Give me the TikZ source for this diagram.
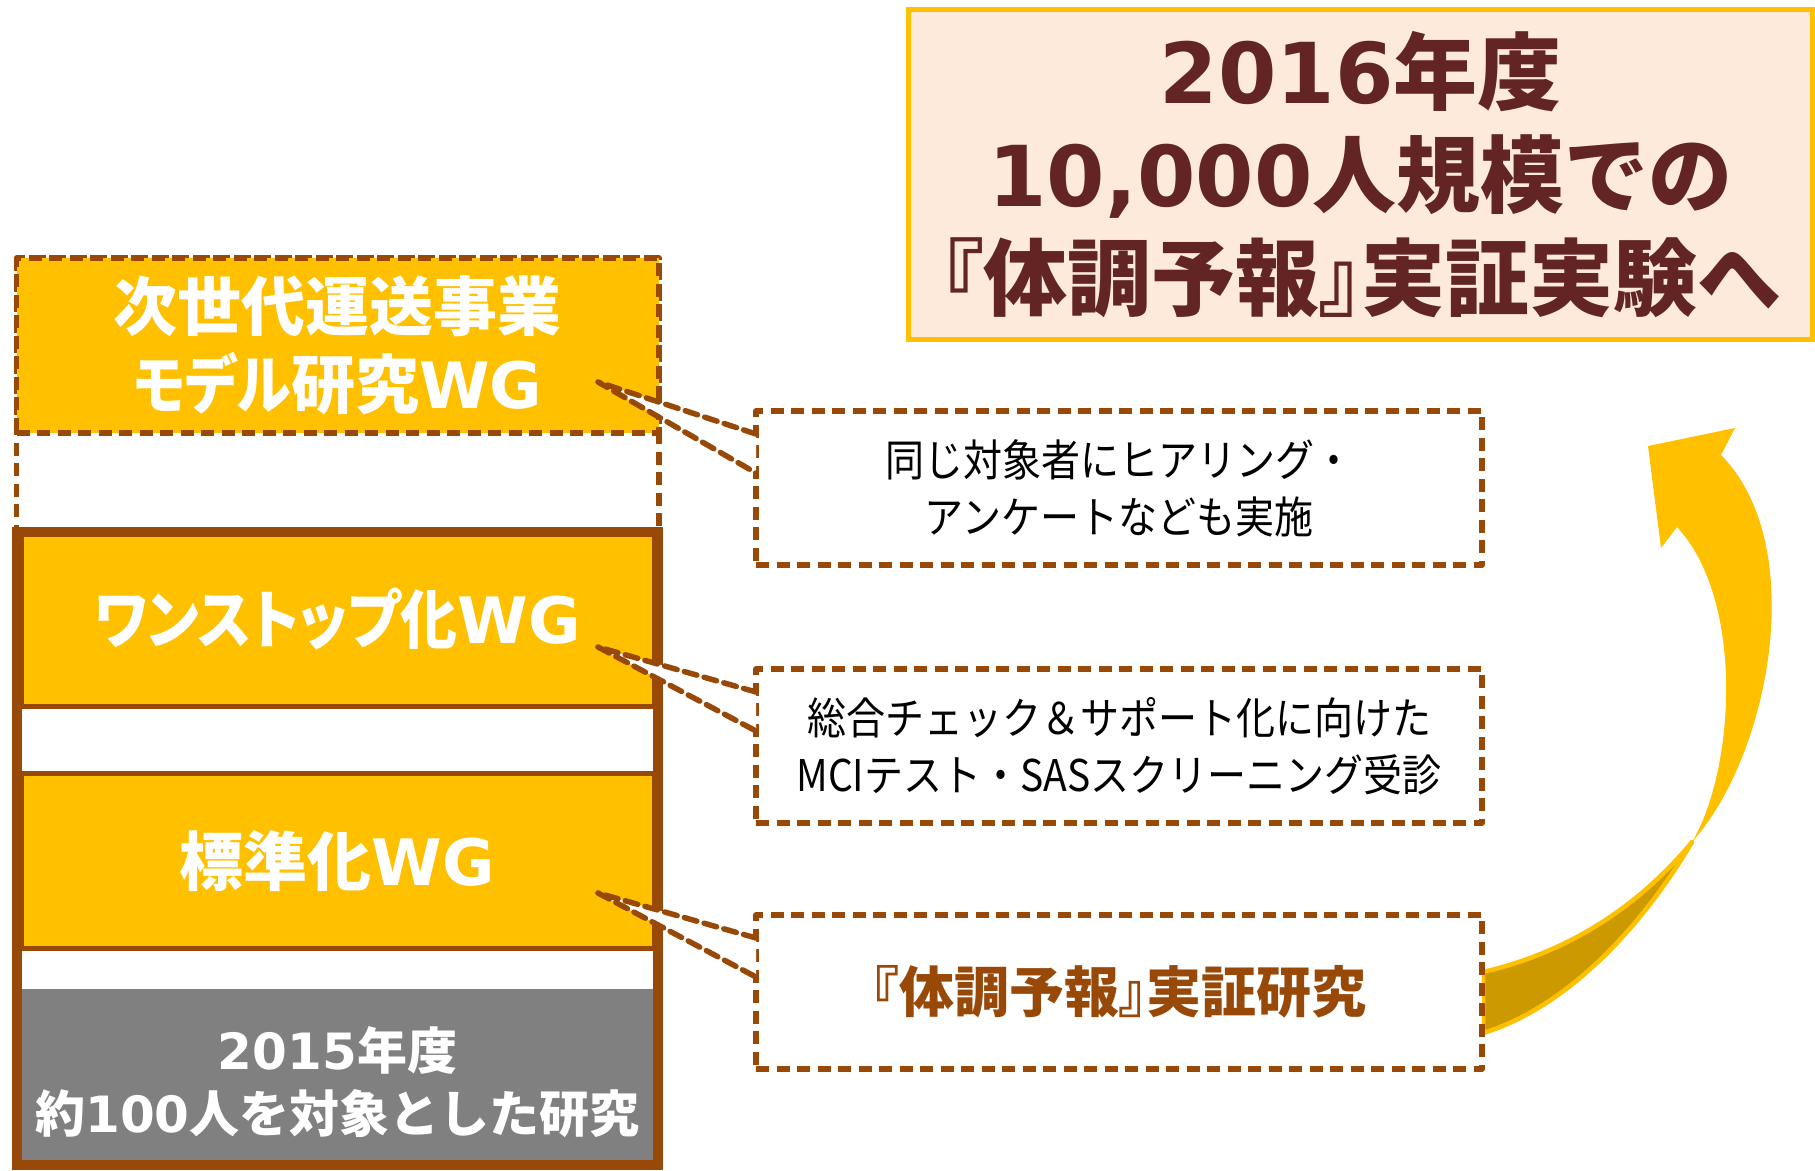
\documentclass[tikz,border=0pt]{standalone}
\usepackage{fontspec}
\setmainfont{Noto Sans CJK JP}
\newfontfamily\jp{Noto Sans CJK JP}
\newfontfamily\jpp[RawFeature=+palt]{Noto Sans CJK JP}
\newfontfamily\lat{DejaVu Sans}
\usetikzlibrary{calc}
\definecolor{brn}{HTML}{984807}
\definecolor{gold}{HTML}{FFC000}
\definecolor{peach}{HTML}{FDEADA}
\definecolor{maroon}{HTML}{632523}
\definecolor{dgold}{HTML}{CC9A00}
\definecolor{gry}{HTML}{808080}
\newcommand\YS[1]{\scalebox{1}[1.12]{#1}}
\newcommand\XS[2]{\scalebox{#1}[1]{#2}}
\begin{document}
\begin{tikzpicture}[x=1pt,y=-1pt,
  dsh/.style={draw=brn, line width=5.5pt, dash pattern=on 13pt off 7.5pt, line join=round},
  notebox/.style={dsh, fill=white, minimum width=726pt, minimum height=154pt, inner sep=0pt, outer sep=0pt, anchor=north west, align=center},
  notetext/.style={font=\jp\fontsize{39pt}{57pt}\selectfont, text=black},
  wgbox/.style={fill=gold, draw=brn, line width=5pt, minimum width=633pt, inner sep=0pt, outer sep=0pt, anchor=north west, align=center, text=white, font=\jpp\bfseries\fontsize{64pt}{78pt}\selectfont},
  wedgeline/.style={dsh, line cap=round, line join=round},
]
\fill[white] (0,0) rectangle (1815,1170);
\useasboundingbox (0,0) rectangle (1815,1170);

% goal box
\node[draw=gold, line width=5pt, fill=peach, minimum width=904pt, minimum height=330pt, inner sep=0pt, outer sep=0pt, anchor=north west, align=center, text=maroon, font=\jp\bfseries\fontsize{84pt}{103pt}\selectfont] (goal) at (908.5,9.5)
  {{\lat 2016}年度\\{\lat 10,000}人規模での\\{\jpp『体調予報』実証実験へ}};

% left column
\draw[dsh] (16.5,258) rectangle (659,532);
\node[wgbox, dsh, minimum width=642.5pt, minimum height=175pt] (wg0) at (16.5,258) {次世代運送事業\\\XS{0.86}{モデル}研究{\lat WG}};

\fill[white] (16.5,532) rectangle (658,1165);
\node[wgbox, minimum height=174pt] (wg1) at (21,532) {\XS{0.89}{ワンストップ化}{\lat WG}};
\node[wgbox, minimum height=174.5pt] (wg2) at (21,773.5) {標準化{\lat WG}};
\node[fill=gry, minimum width=633pt, minimum height=176pt, inner sep=0pt, outer sep=0pt, anchor=north west] (base) at (21,989) {};
\node[align=center, text=white, font=\jp\bfseries\fontsize{50pt}{63pt}\selectfont, yshift=-5pt] (baset) at (base.center)
  {{\lat 2015}年度\\約{\lat 100}人を対象とした研究};
\node[draw=brn, line width=10pt, minimum width=641.5pt, minimum height=633pt, inner sep=0pt, outer sep=0pt, anchor=north west] (frame) at (16.5,532) {};

% note boxes
\node[notebox, notetext] (n1) at (756,411) {\YS{同じ対象者にヒアリング・}\\\YS{アンケートなども実施}};
\node[notebox, notetext] (n2) at (756,669) {\YS{総合チェック＆サポート化に向けた}\\\YS{MCIテスト・SASスクリーニング受診}};

% curved twisted arrow
\fill[gold] (1692,842) .. controls (1770,755) and (1810,545) .. (1721,455)
  -- (1735,428) -- (1648,446) -- (1661,548) -- (1677,527)
  .. controls (1745,600) and (1735,770) .. (1692,842) -- cycle;
\filldraw[fill=dgold, draw=gold, line width=4.5pt, line join=round]
  (1483,972) .. controls (1570,952) and (1640,905) .. (1692,842)
  .. controls (1640,930) and (1565,1008) .. (1483,1033) -- cycle;

\node[notebox, text=brn, font=\jpp\bfseries\fontsize{55pt}{57pt}\selectfont] (n3) at (756,915) {『体調予報』実証研究};

% callout wedges
\coordinate (p1) at (598,382);
\coordinate (p2) at (598,647);
\coordinate (p3) at (598,893);
\foreach \p/\n in {p1/n1, p2/n2, p3/n3}{
  \fill[white] (\p) -- ($(\n.west)+(0,-54)$) -- ($(\n.west)+(0,-15)$) -- cycle;
  \draw[wedgeline] ($(\n.west)+(0,-54)$) -- (\p) -- ($(\n.west)+(0,-15)$);
}
\end{tikzpicture}
\end{document}
